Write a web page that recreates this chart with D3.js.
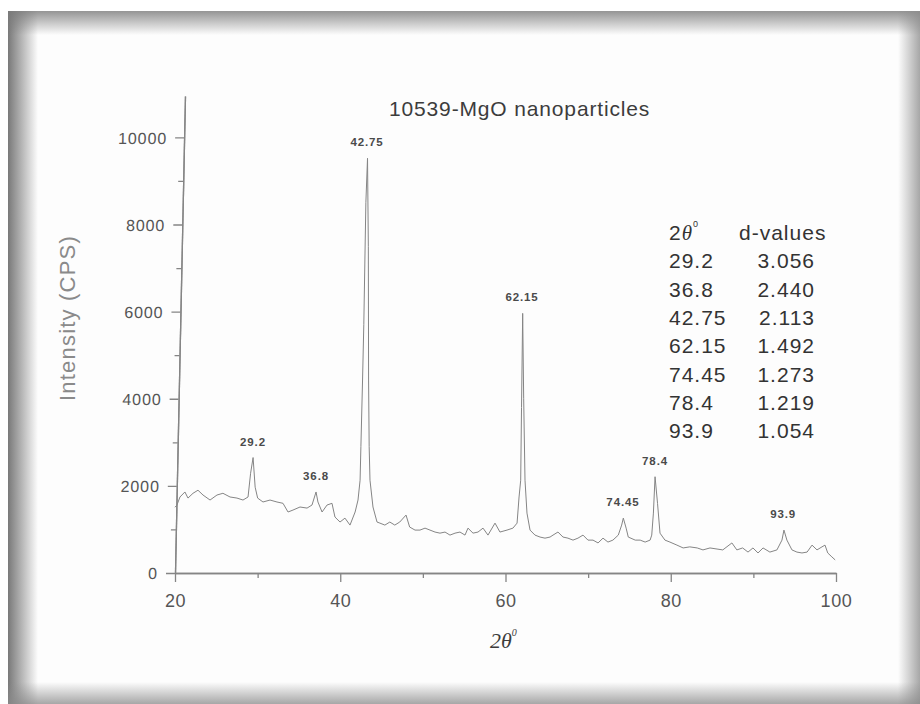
<!DOCTYPE html>
<html>
<head>
<meta charset="utf-8">
<script src="https://cdn.jsdelivr.net/npm/d3@7"></script>
<style>
  html, body { margin: 0; padding: 0; background: #fff; }
  svg { display: block; }
  text { font-family: "Liberation Sans", Arial, sans-serif; }
</style>
</head>
<body>
<div id="chart"></div>
<script>
// ── Data ──
const twoTheta = [
  20.0, 20.24, 20.6, 21.2, 21.57, 22.18, 22.78, 23.39, 24.24, 25.08, 25.8, 26.66, 27.5, 28.23, 28.84,
  29.15, 29.45, 29.7, 30.0, 30.65, 31.5, 32.34, 33.07, 33.68, 34.28, 35.13, 35.98, 36.58, 37.07, 37.3,
  37.8, 38.4, 39.0, 39.36, 39.97, 40.57, 41.18, 41.8, 42.15, 42.4, 42.5, 42.7, 42.85, 43.1, 43.3,
  43.4, 43.43, 43.5, 43.6, 43.96, 44.45, 44.8, 45.4, 46.0, 46.6, 47.2, 47.96, 48.4, 49.05, 49.65,
  50.26, 50.86, 51.47, 52.07, 52.68, 53.28, 53.89, 54.49, 55.1, 55.46, 56.07, 56.67, 57.28, 57.88, 58.73,
  59.33, 60.18, 60.9, 61.4, 61.64, 61.84, 61.94, 62.08, 62.2, 62.36, 62.6, 62.97, 63.57, 64.18, 64.78,
  65.39, 65.75, 66.35, 66.96, 67.56, 68.17, 68.77, 69.38, 69.98, 70.59, 71.2, 71.8, 72.4, 73.0, 73.65,
  74.06, 74.26, 74.6, 74.86, 75.7, 76.3, 76.9, 77.5, 77.7, 77.9, 78.1, 78.4, 78.7, 79.3, 79.9,
  80.75, 81.5, 82.3, 83.2, 83.9, 84.75, 85.6, 86.3, 87.4, 88.0, 88.7, 89.35, 89.95, 90.56, 91.17,
  92.0, 92.85, 93.46, 93.7, 94.06, 94.67, 95.27, 95.88, 96.5, 97.1, 97.7, 98.3, 98.67, 99.0, 99.5, 99.9
];
const intensity = [
  1510, 1560, 1745, 1860, 1720, 1830, 1900, 1790, 1675, 1790, 1830, 1745, 1720, 1675, 1745,
  2290, 2650, 1970, 1720, 1630, 1675, 1630, 1600, 1400, 1445, 1515, 1490, 1560, 1860, 1630,
  1400, 1560, 1600, 1285, 1170, 1260, 1100, 1400, 1675, 2130, 2900, 4430, 5700, 8500, 9520,
  7500, 4430, 2900, 2130, 1515, 1170, 1145, 1100, 1170, 1100, 1170, 1330, 1055, 985, 985,
  1030, 985, 940, 915, 940, 870, 915, 940, 870, 1030, 915, 940, 1030, 870, 1145,
  940, 985, 1030, 1145, 1745, 2130, 3800, 5960, 4000, 2130, 1375, 985, 870, 825, 800,
  825, 870, 940, 825, 800, 755, 800, 870, 755, 755, 690, 800, 710, 755, 870,
  1100, 1260, 1030, 825, 755, 755, 710, 755, 870, 1375, 2210, 1600, 915, 755, 710,
  640, 575, 600, 575, 530, 575, 550, 530, 690, 530, 575, 480, 575, 460, 575,
  480, 530, 755, 985, 755, 530, 480, 460, 480, 640, 530, 600, 640, 460, 370, 300
];

// peak annotations: label text, where the peak sits on the trace, its top
const peakNames = ["29.2", "36.8", "42.75", "62.15", "74.45", "78.4", "93.9"];
const peakAt    = [29.44, 37.07, 43.24, 62.0, 74.22, 78.1, 93.6];
const peakTop   = [2650, 1860, 9520, 5960, 1260, 2210, 985];

// d-spacing table
const tableAngles = ["29.2", "36.8", "42.75", "62.15", "74.45", "78.4", "93.9"];
const tableD      = ["3.056", "2.440", "2.113", "1.492", "1.273", "1.219", "1.054"];

const xTicks = [20, 40, 60, 80, 100];
const xMinor = [30, 50, 70, 90];
const yTicks = [0, 2000, 4000, 6000, 8000, 10000];
const yMinor = [1000, 3000, 5000, 7000, 9000];

// ── Canvas ──
const W = 920, H = 704;
const svg = d3.select('#chart').append('svg').attr('width', W).attr('height', H);

// ── Frame with inner shadow (scanned page look) ──
const defs = svg.append('defs');
function shade(id, x1, y1, x2, y2, color, op) {
  const gr = defs.append('linearGradient').attr('id', id)
    .attr('x1', x1).attr('y1', y1).attr('x2', x2).attr('y2', y2);
  gr.append('stop').attr('offset', '0%').attr('stop-color', color).attr('stop-opacity', op);
  gr.append('stop').attr('offset', '100%').attr('stop-color', color).attr('stop-opacity', 0);
}
shade('shL', '0', '0', '1', '0', '#6a6a6a', 0.9);
shade('shT', '0', '0', '0', '1', '#7a7a7a', 0.8);
shade('shR', '1', '0', '0', '0', '#8a8a8a', 0.75);
shade('shB', '0', '1', '0', '0', '#8a8a8a', 0.75);

svg.append('rect').attr('x', 8).attr('y', 11).attr('width', W - 8).attr('height', H - 11).attr('fill', '#fdfdfd');
svg.append('rect').attr('x', 8).attr('y', 11).attr('width', 30).attr('height', H - 11).attr('fill', 'url(#shL)');
svg.append('rect').attr('x', 8).attr('y', 11).attr('width', W - 8).attr('height', 24).attr('fill', 'url(#shT)');
svg.append('rect').attr('x', W - 22).attr('y', 11).attr('width', 22).attr('height', H - 11).attr('fill', 'url(#shR)');
svg.append('rect').attr('x', 8).attr('y', H - 22).attr('width', W - 8).attr('height', 22).attr('fill', 'url(#shB)');

// ── Scales ──
const x = d3.scaleLinear().domain([20, 100]).range([175, 836]);
const y = d3.scaleLinear().domain([0, 10950]).range([573, 96]);

const axisColor = '#858585';
const tickText = '#555';

// ── X axis ──
const gx = svg.append('g').attr('transform', 'translate(0,' + y(0) + ')');
gx.append('g').call(d3.axisBottom(x).tickValues(xMinor).tickSize(5).tickSizeOuter(0).tickFormat(''));
gx.append('g').call(d3.axisBottom(x).tickValues(xTicks).tickSize(9).tickSizeOuter(0));
gx.selectAll('path, line').attr('stroke', axisColor).attr('stroke-width', 1.3);
gx.selectAll('text').attr('y', 34).attr('dy', 0)
  .attr('fill', tickText).attr('font-size', 18).attr('letter-spacing', 0.6)
  .style('font-family', '"Liberation Sans", Arial, sans-serif');

// ── Y axis (scan is slightly skewed: the axis leans right toward the top) ──
const skew = Math.atan(10 / 477) * 180 / Math.PI;
const gy = svg.append('g')
  .attr('transform', 'translate(' + x(20) + ',' + y(0) + ') skewX(' + (-skew) + ') translate(0,' + (-y(0)) + ')');
gy.append('g').call(d3.axisLeft(y).tickValues(yMinor).tickSize(5).tickSizeOuter(0).tickFormat(''));
gy.append('g').call(d3.axisLeft(y).tickValues(yTicks).tickSize(9).tickSizeOuter(0).tickFormat(d3.format('d')));
gy.selectAll('path, line').attr('stroke', axisColor).attr('stroke-width', 1.3);
gy.selectAll('text').attr('x', -17).attr('dy', '0.36em')
  .attr('fill', tickText).attr('font-size', 16).attr('letter-spacing', 0.9)
  .style('font-family', '"Liberation Sans", Arial, sans-serif');

// ── Diffraction trace ──
const pts = twoTheta.map(function(t, i) { return [t, intensity[i]]; });
const line = d3.line()
  .x(function(d) { return x(d[0]); })
  .y(function(d) { return y(d[1]); });

svg.append('path').datum(pts)
  .attr('d', line)
  .attr('fill', 'none')
  .attr('stroke', '#858585')
  .attr('stroke-width', 1)
  .attr('stroke-linejoin', 'round');

// ── Peak labels ──
svg.append('g').selectAll('text').data(peakNames).join('text')
  .attr('x', function(d, i) { return x(peakAt[i]); })
  .attr('y', function(d, i) { return y(peakTop[i]) - 12; })
  .attr('text-anchor', 'middle')
  .attr('font-size', 11.5)
  .attr('font-weight', 'bold')
  .attr('letter-spacing', 0.9)
  .attr('fill', '#4a4a4a')
  .text(function(d) { return d; });

// ── Title ──
svg.append('text')
  .attr('x', 389).attr('y', 116)
  .attr('font-size', 21)
  .attr('letter-spacing', 0.85)
  .attr('fill', '#3c3c3c')
  .text('10539-MgO nanoparticles');

// ── Axis titles ──
svg.append('text')
  .attr('transform', 'translate(75,318) rotate(-90)')
  .attr('text-anchor', 'middle')
  .attr('font-size', 22)
  .attr('letter-spacing', 1.2)
  .attr('fill', '#8a8a8a')
  .text('Intensity (CPS)');

const xl = svg.append('text')
  .attr('x', 490).attr('y', 648)
  .attr('fill', '#3c3c3c')
  .style('font-family', '"Liberation Serif", "Times New Roman", serif')
  .style('font-style', 'italic')
  .attr('font-size', 22);
xl.append('tspan').text('2θ');
xl.append('tspan').attr('dy', -12).attr('font-size', 10).text('0');

// ── d-value table ──
const rowY = d3.scaleLinear().domain([0, 1]).range([240, 268.3]);
const table = svg.append('g').attr('fill', '#333').attr('font-size', 21).attr('letter-spacing', 1);

const hd = table.append('text').attr('x', 669).attr('y', rowY(0));
hd.append('tspan').text('2');
hd.append('tspan').style('font-family', '"Liberation Serif", "Times New Roman", serif')
  .style('font-style', 'italic').text('θ');
hd.append('tspan').attr('dy', -13).attr('font-size', 9).text('0');

table.append('text').attr('x', 739).attr('y', rowY(0)).text('d-values');

table.selectAll('text.ang').data(tableAngles).join('text')
  .attr('class', 'ang')
  .attr('x', 669)
  .attr('y', function(d, i) { return rowY(i + 1); })
  .text(function(d) { return d; });

table.selectAll('text.dv').data(tableD).join('text')
  .attr('class', 'dv')
  .attr('x', 815)
  .attr('y', function(d, i) { return rowY(i + 1); })
  .attr('text-anchor', 'end')
  .text(function(d) { return d; });
</script>
</body>
</html>
